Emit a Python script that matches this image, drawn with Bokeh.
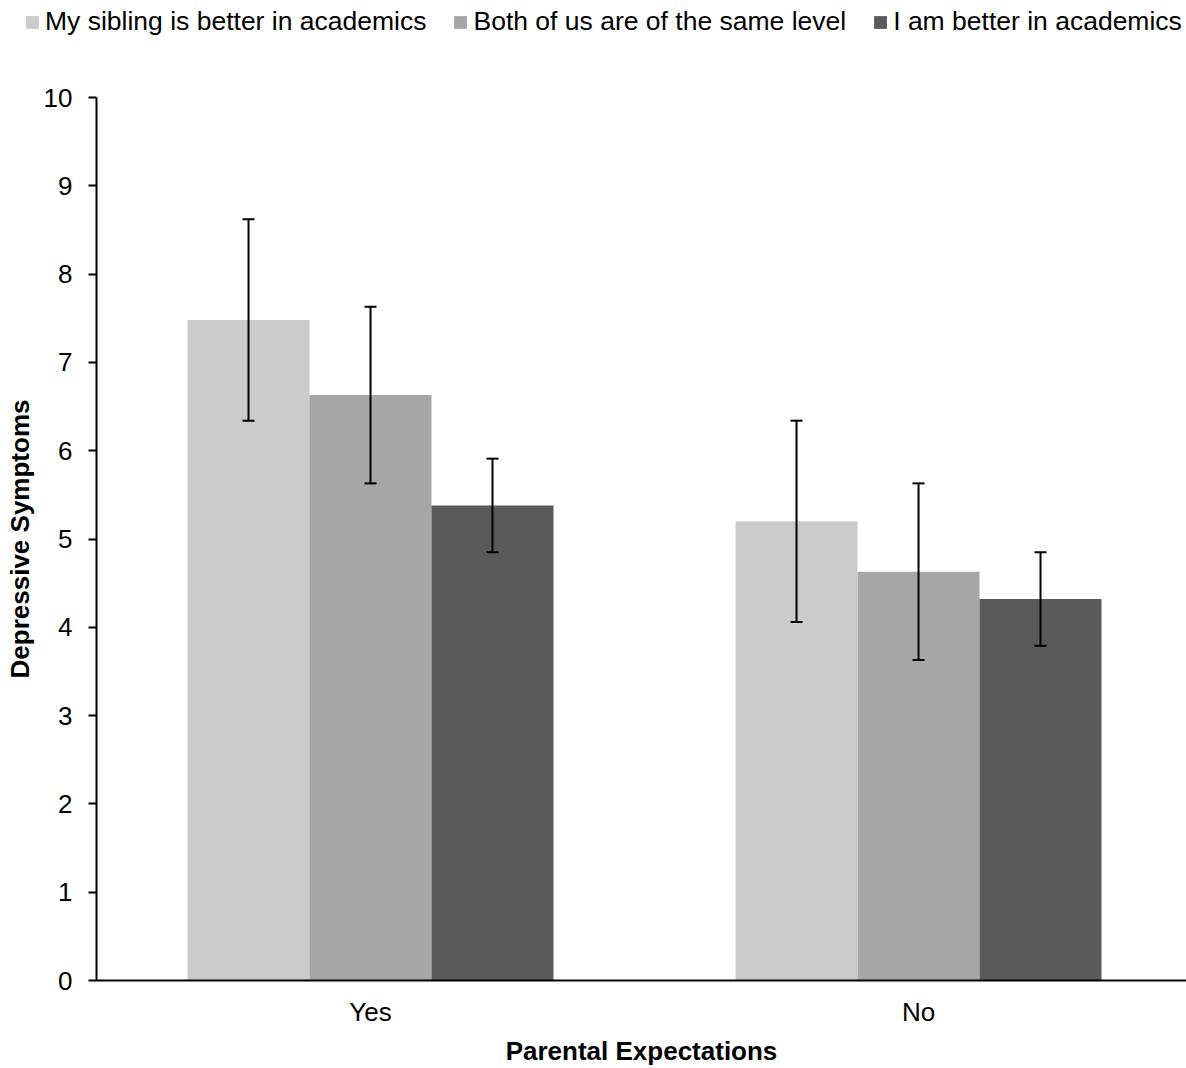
from bokeh.plotting import figure
from bokeh.layouts import column
from bokeh.models import (ColumnDataSource, Range1d, FixedTicker, Whisker, Legend, LegendItem)
from bokeh.embed import file_html
from bokeh.resources import INLINE

categories = ["Yes", "No"]
series = ["My sibling is better in academics", "Both of us are of the same level", "I am better in academics"]
sibling_better = [7.48, 5.20]
same_level = [6.63, 4.63]
i_better = [5.38, 4.32]
err_sibling_better = [1.14, 1.14]
err_same_level = [1.00, 1.00]
err_i_better = [0.53, 0.53]
y_ticks = [0, 1, 2, 3, 4, 5, 6, 7, 8, 9, 10]

colors = ["#CBCBCB", "#A6A6A6", "#5A5A5A"]
FONT = "Liberation Sans"

W, H = 1186, 1068
LEG_H = 60
TOP, LEFT, BOTTOM = 37, 96, 85
p = figure(width=W, height=H - LEG_H, output_backend="svg", toolbar_location=None,
           x_range=Range1d(-0.5, 1.489), y_range=Range1d(0, 10),
           min_border_left=LEFT, min_border_top=TOP, min_border_right=0, min_border_bottom=BOTTOM)
p.outline_line_color = None
p.xgrid.visible = False
p.ygrid.visible = False
p.frame_align = False

# legend strip above the chart
pl = figure(width=W, height=LEG_H, output_backend="svg", toolbar_location=None,
            x_range=Range1d(0, 1), y_range=Range1d(0, 1),
            x_axis_location=None, y_axis_location=None,
            min_border_left=0, min_border_top=0, min_border_right=0, min_border_bottom=0)
pl.grid.visible = False
pl.outline_line_color = None
pl.frame_align = False

width = 0.2226
offsets = [-width, 0.0, width]
vals = [sibling_better, same_level, i_better]
errs = [err_sibling_better, err_same_level, err_i_better]
items = []
for k in range(3):
    xs = [i + offsets[k] for i in range(len(categories))]
    src = ColumnDataSource(dict(x=xs, top=vals[k],
                                upper=[v + e for v, e in zip(vals[k], errs[k])],
                                lower=[v - e for v, e in zip(vals[k], errs[k])]))
    p.vbar(x="x", top="top", width=width, bottom=0, source=src,
           fill_color=colors[k], line_color=None)
    w = Whisker(base="x", upper="upper", lower="lower", source=src,
                line_color="black", line_width=2, level="overlay")
    w.upper_head.size = 12
    w.lower_head.size = 12
    w.upper_head.line_width = 2
    w.lower_head.line_width = 2
    p.add_layout(w)
    # legend swatch renderer (kept entirely outside the strip's visible range)
    lr = pl.vbar(x=[-10], top=[-5], bottom=-6, width=0.1, fill_color=colors[k], line_color=None)
    items.append(LegendItem(label=series[k], renderers=[lr]))

legend = Legend(items=items, orientation="horizontal", location=(24, 23),
                glyph_width=16, glyph_height=16, label_text_font=FONT,
                label_text_font_size="26.5px", label_text_color="black",
                spacing=26, label_standoff=5, padding=0, margin=0,
                border_line_color=None, background_fill_alpha=0)
pl.add_layout(legend, "center")

# x axis
p.xaxis.ticker = FixedTicker(ticks=[0, 1])
p.xaxis.major_label_overrides = {0: "Yes", 1: "No"}
p.xaxis.major_tick_out = 0
p.xaxis.major_tick_in = 0
p.xaxis.minor_tick_line_color = None
p.xaxis.axis_line_color = "black"
p.xaxis.axis_line_width = 2
p.xaxis.major_label_text_font = FONT
p.xaxis.major_label_text_font_size = "26px"
p.xaxis.major_label_text_color = "black"
p.xaxis.major_label_standoff = 16
p.xaxis.axis_label = "Parental Expectations"
p.xaxis.axis_label_text_font = FONT
p.xaxis.axis_label_text_font_size = "26px"
p.xaxis.axis_label_text_font_style = "bold"
p.xaxis.axis_label_text_color = "black"
p.xaxis.axis_label_standoff = 6

# y axis
p.yaxis.ticker = FixedTicker(ticks=y_ticks)
p.yaxis.major_tick_out = 8
p.yaxis.major_tick_in = 0
p.yaxis.major_tick_line_color = "black"
p.yaxis.major_tick_line_width = 2
p.yaxis.minor_tick_line_color = None
p.yaxis.axis_line_color = "black"
p.yaxis.axis_line_width = 2
p.yaxis.major_label_text_font = FONT
p.yaxis.major_label_text_font_size = "26px"
p.yaxis.major_label_text_color = "black"
p.yaxis.major_label_standoff = 16
p.yaxis.axis_label = "Depressive Symptoms"
p.yaxis.axis_label_text_font = FONT
p.yaxis.axis_label_text_font_size = "26px"
p.yaxis.axis_label_text_font_style = "bold"
p.yaxis.axis_label_text_color = "black"
p.yaxis.axis_label_standoff = 6

layout = column(pl, p, spacing=0)
open("out.html", "w").write(file_html(layout, INLINE))
